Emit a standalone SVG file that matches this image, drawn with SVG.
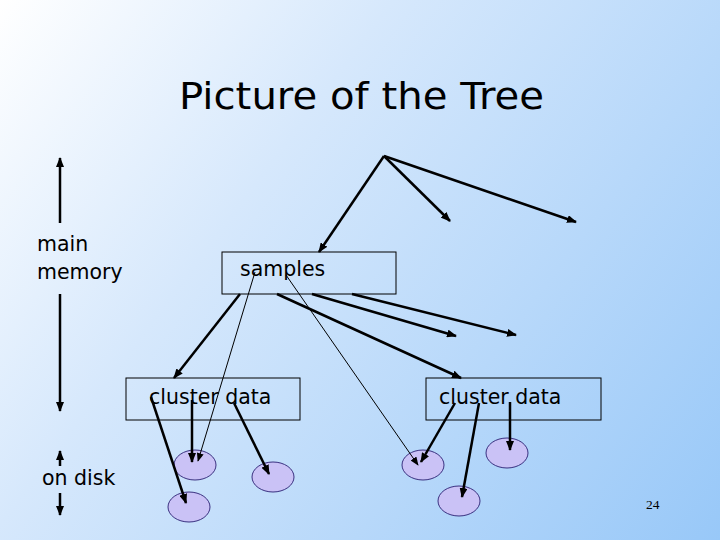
<svg xmlns="http://www.w3.org/2000/svg" width="720" height="540" viewBox="0 0 720 540">
<defs>
<linearGradient id="bg" x1="0" y1="0" x2="720" y2="540" gradientUnits="userSpaceOnUse">
<stop offset="0" stop-color="#ffffff"/>
<stop offset="0.35" stop-color="#d6e8fc"/>
<stop offset="1" stop-color="#98c8f8"/>
</linearGradient>
<marker id="ah" viewBox="0 0 10 8" refX="9" refY="4" markerWidth="10" markerHeight="8" markerUnits="userSpaceOnUse" orient="auto">
<path d="M0,0 L10,4 L0,8 z" fill="#000"/>
</marker>
<marker id="ahs" viewBox="0 0 10 8" refX="9" refY="4" markerWidth="9" markerHeight="7" markerUnits="userSpaceOnUse" orient="auto">
<path d="M0,0 L10,4 L0,8 z" fill="#000"/>
</marker>
</defs>
<style>
.lbl{font-family:"DejaVu Sans","Liberation Sans",sans-serif;font-size:20.5px;fill:#000}
.title{font-family:"DejaVu Sans","Liberation Sans",sans-serif;font-size:38px;fill:#000}
.box{fill:none;stroke:#000;stroke-width:1}
.disk{fill:#cac2f6;stroke:#3a3080;stroke-width:1}
.thick{stroke:#000;stroke-width:2.5;fill:none;marker-end:url(#ah)}
.thin{stroke:#000;stroke-width:1;fill:none;marker-end:url(#ahs)}
.scale{stroke:#000;stroke-width:2.5;fill:none}
</style>
<rect x="0" y="0" width="720" height="540" fill="url(#bg)"/>
<text class="title" x="179" y="109" textLength="365" lengthAdjust="spacingAndGlyphs">Picture of the Tree</text>

<g id="scale-main-memory">
<line class="scale" x1="60" y1="223" x2="60" y2="158" marker-end="url(#ah)"/>
<line class="scale" x1="60" y1="294" x2="60" y2="411" marker-end="url(#ah)"/>
<text class="lbl" x="37" y="251">main</text>
<text class="lbl" x="37" y="279">memory</text>
</g>
<g id="scale-on-disk">
<line class="scale" x1="60" y1="466" x2="60" y2="451" marker-end="url(#ah)"/>
<line class="scale" x1="60" y1="493" x2="60" y2="515" marker-end="url(#ah)"/>
<text class="lbl" x="42" y="485">on disk</text>
</g>

<g id="samples">
<rect class="box" x="222" y="252" width="174" height="42"/>
<text class="lbl" x="240" y="276">samples</text>
</g>
<g id="cluster1">
<rect class="box" x="126" y="378" width="174" height="42"/>
<text class="lbl" x="149" y="404">cluster data</text>
</g>
<g id="cluster2">
<rect class="box" x="426" y="378" width="175" height="42"/>
<text class="lbl" x="439" y="404">cluster data</text>
</g>
<g id="disk1"><ellipse class="disk" cx="195" cy="465" rx="21" ry="15"/></g>
<g id="disk2"><ellipse class="disk" cx="273" cy="477" rx="21" ry="15"/></g>
<g id="disk3"><ellipse class="disk" cx="189" cy="507" rx="21" ry="15"/></g>
<g id="disk4"><ellipse class="disk" cx="423" cy="465" rx="21" ry="15"/></g>
<g id="disk5"><ellipse class="disk" cx="507" cy="453" rx="21" ry="15"/></g>
<g id="disk6"><ellipse class="disk" cx="459" cy="501" rx="21" ry="15"/></g>

<g id="connectors">
<line class="thick" x1="384" y1="156" x2="319" y2="252"/>
<line class="thick" x1="384" y1="156" x2="450" y2="221"/>
<line class="thick" x1="384" y1="156" x2="576" y2="222"/>
<line class="thick" x1="240" y1="294" x2="174" y2="378"/>
<line class="thick" x1="277" y1="294" x2="461" y2="378"/>
<line class="thick" x1="312" y1="294" x2="456" y2="336"/>
<line class="thick" x1="352" y1="294" x2="516" y2="335"/>
<line class="thick" x1="151" y1="397" x2="186" y2="503"/>
<line class="thick" x1="192" y1="400" x2="192" y2="462"/>
<line class="thick" x1="234" y1="403" x2="269" y2="474"/>
<line class="thick" x1="455" y1="403" x2="421" y2="462"/>
<line class="thick" x1="479" y1="403" x2="462" y2="497"/>
<line class="thick" x1="510" y1="402" x2="510" y2="450"/>
<line class="thin" x1="255" y1="272" x2="198" y2="461"/>
<line class="thin" x1="286" y1="275" x2="418" y2="465"/>
</g>
<text x="646" y="509" font-family="Liberation Serif, serif" font-size="13.5" fill="#000">24</text>
</svg>
